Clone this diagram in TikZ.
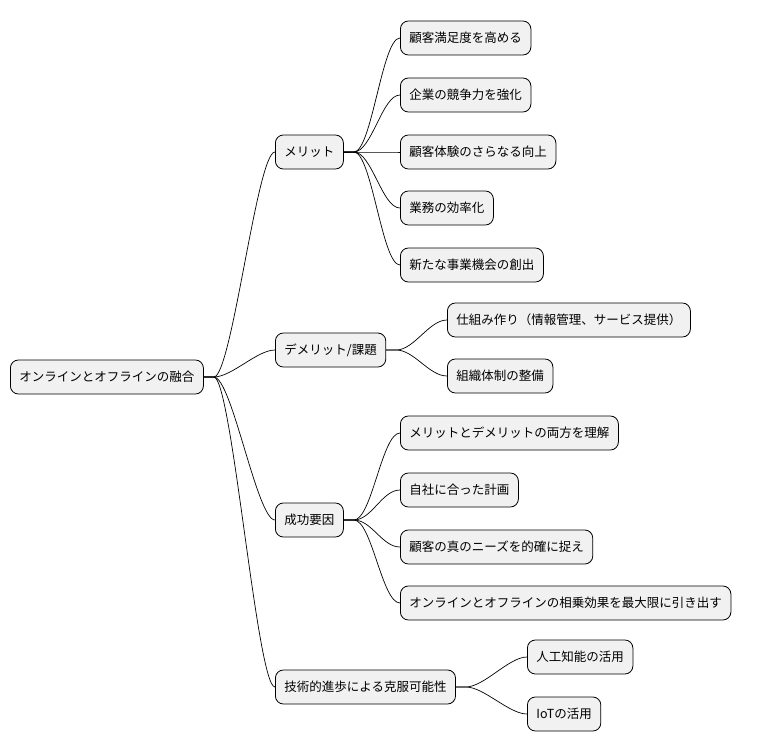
\documentclass[tikz,border=0pt]{standalone}
\usepackage{fontspec}
\setmainfont{Noto Sans CJK JP}
\begin{document}
\begin{tikzpicture}[x=1pt,y=-1pt,
  box/.style={draw=black,line width=0.8pt,fill={rgb,255:red,241;green,241;blue,241},rounded corners=8pt,minimum height=34pt,inner xsep=9pt,anchor=west,font=\fontsize{12.5}{14}\selectfont},
  link/.style={draw=black,line width=0.7pt}]
\useasboundingbox (0,0) rectangle (782,752);
\fill[white] (0,0) rectangle (782,752);
\node[box] (r) at (10,377) {オンラインとオフラインの融合};
\node[box] (m) at (275,152) {メリット};
\node[box] (d) at (275,350) {デメリット/課題};
\node[box] (s) at (275,520) {成功要因};
\node[box] (t) at (275,687) {技術的進歩による克服可能性};
\node[box] (m1) at (400,38) {顧客満足度を高める};
\node[box] (m2) at (400,95) {企業の競争力を強化};
\node[box] (m3) at (400,152) {顧客体験のさらなる向上};
\node[box] (m4) at (400,208) {業務の効率化};
\node[box] (m5) at (400,265) {新たな事業機会の創出};
\node[box] (d1) at (447,320) {仕組み作り（情報管理、サービス提供）};
\node[box] (d2) at (447,376) {組織体制の整備};
\node[box] (s1) at (400,433) {メリットとデメリットの両方を理解};
\node[box] (s2) at (400,490) {自社に合った計画};
\node[box] (s3) at (400,547) {顧客の真のニーズを的確に捉え};
\node[box] (s4) at (400,603) {オンラインとオフラインの相乗効果を最大限に引き出す};
\node[box] (t1) at (527,657) {人工知能の活用};
\node[box] (t2) at (527,714) {IoTの活用};
\foreach \p/\c in {r/m,r/d,r/s,r/t,m/m1,m/m2,m/m3,m/m4,m/m5,d/d1,d/d2,s/s1,s/s2,s/s3,s/s4,t/t1,t/t2}
  \draw[link] (\p.east) -- ++(10,0) .. controls +(18,0) and +(-18,0) .. (\c.west);
\end{tikzpicture}
\end{document}
